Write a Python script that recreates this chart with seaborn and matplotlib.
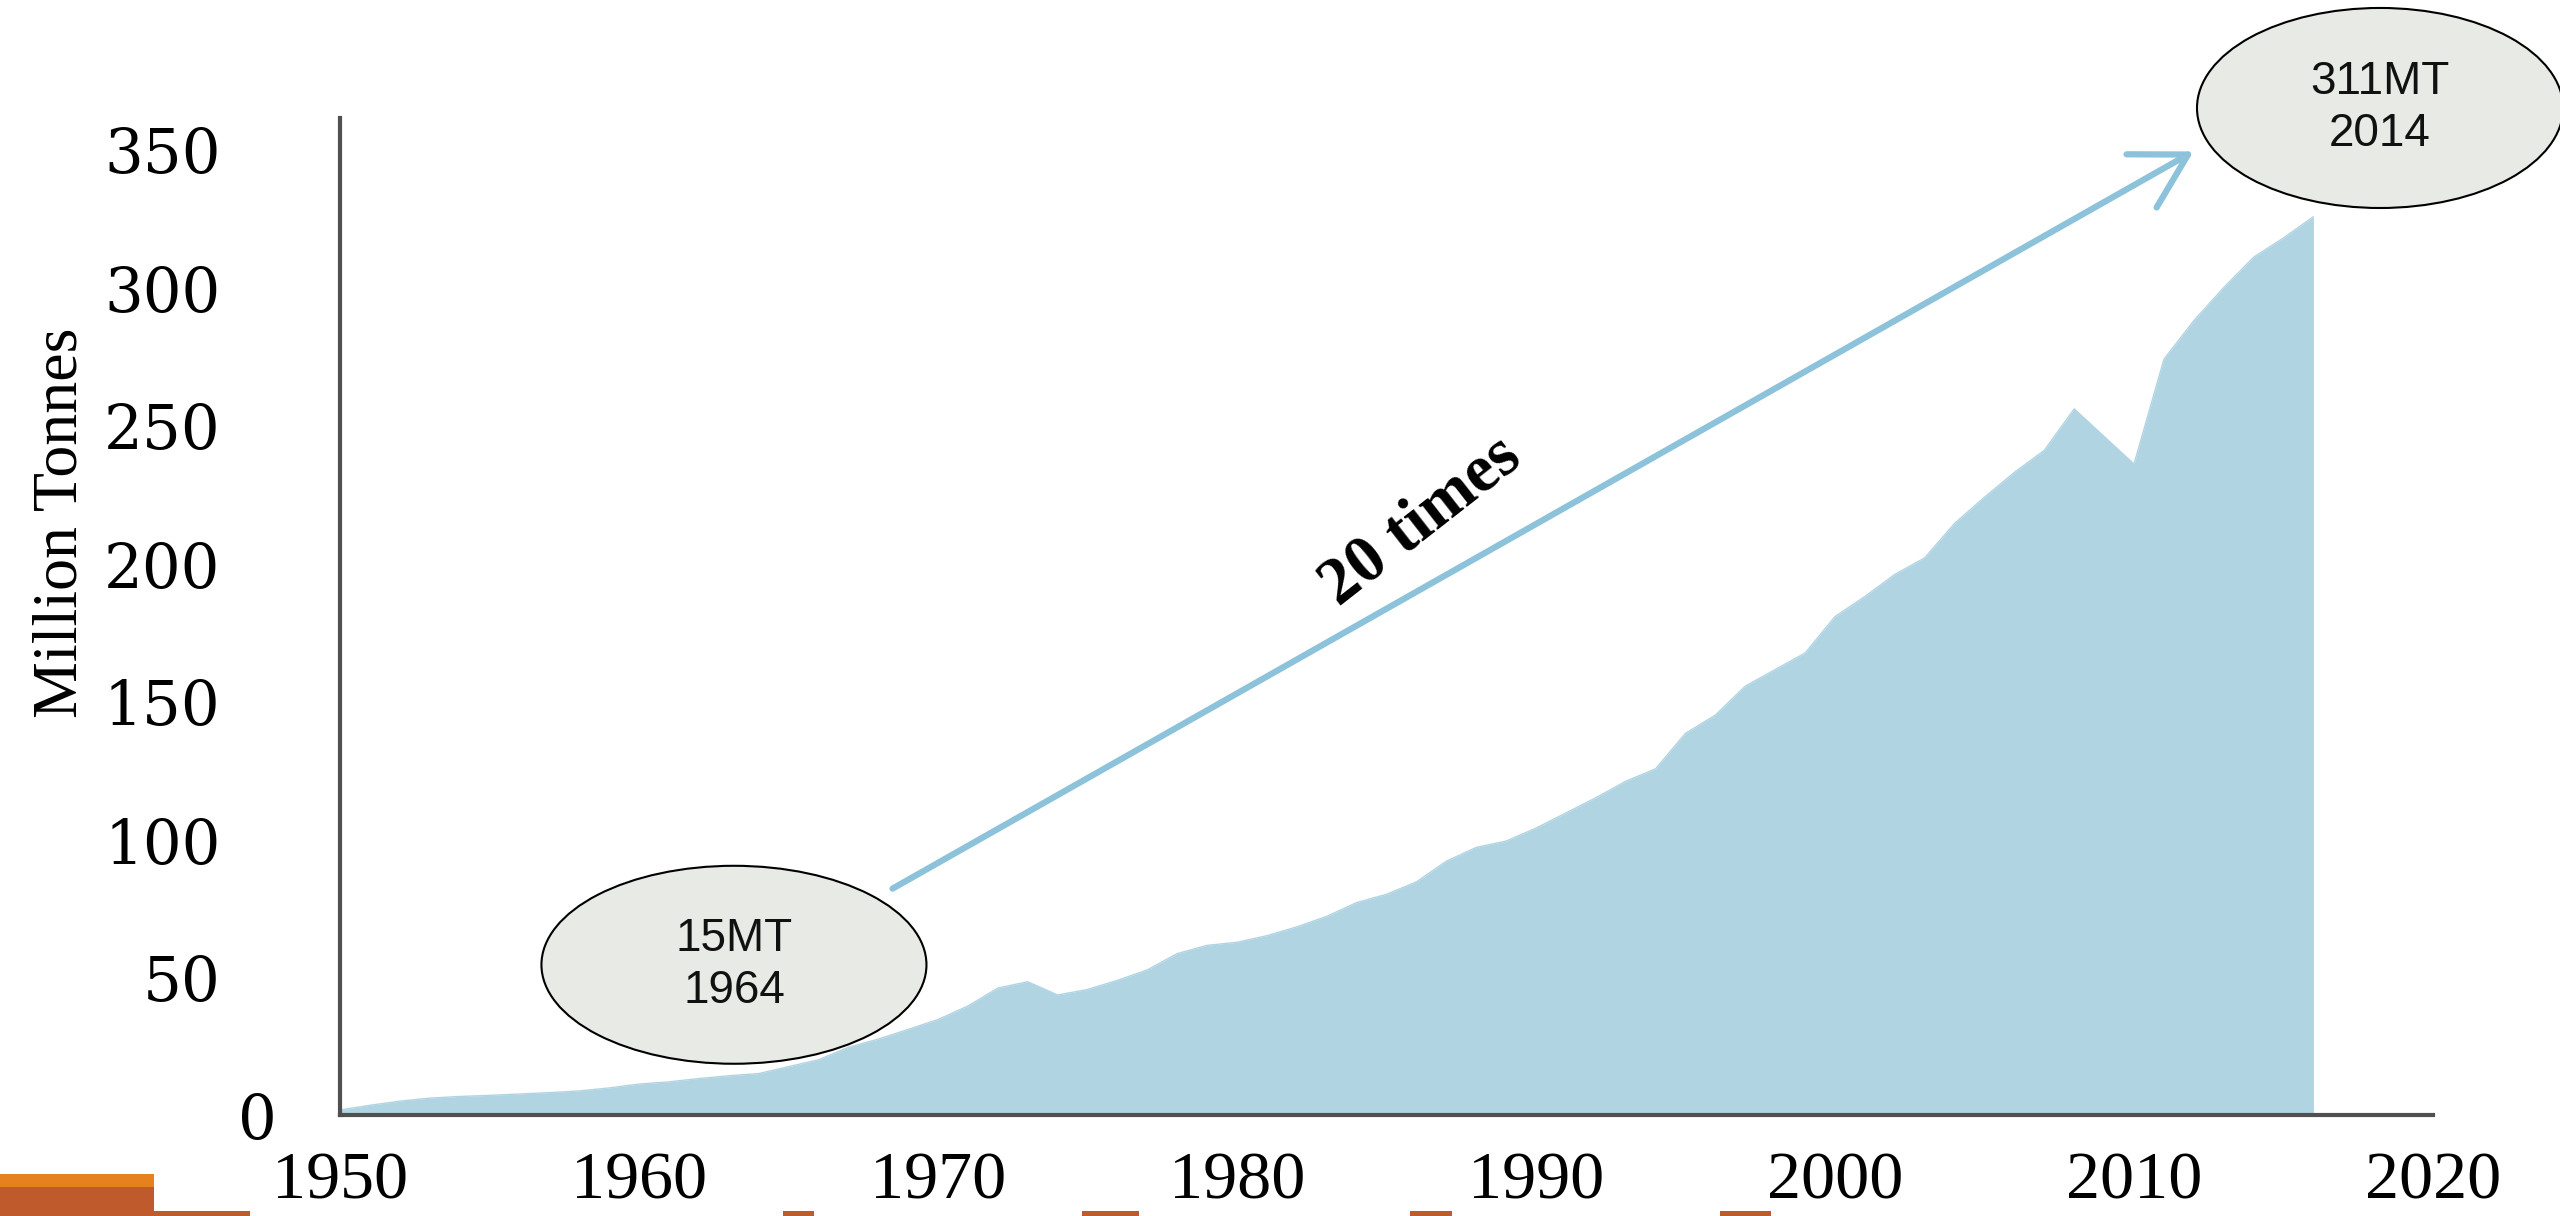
import matplotlib
matplotlib.use("Agg")
import matplotlib.pyplot as plt
import matplotlib.transforms as mtransforms
import pandas as pd
import seaborn as sns
from matplotlib.patches import Ellipse, Rectangle, FancyArrowPatch

# World plastics production, million tonnes per year
years = list(range(1950, 2017))
production = [
    1.8, 3.5, 5.0, 6.1, 6.7, 7.1, 7.6, 8.1, 8.7, 9.8,
    11.2, 12.0, 13.2, 14.2, 15.0, 17.5, 20.0, 24.5, 27.5, 31.0,
    34.6, 39.5, 46.0, 48.3, 43.5, 45.5, 48.8, 52.6, 58.5, 61.5,
    62.6, 65.0, 68.2, 72.0, 77.0, 80.0, 84.5, 92.0, 97.0, 99.3,
    104.0, 109.5, 115.0, 121.0, 125.5, 138.4, 145.0, 155.5, 161.5, 167.5,
    180.7, 188.0, 196.0, 202.0, 214.5, 224.0, 233.0, 241.0, 256.0, 246.0,
    236.0, 274.0, 288.0, 300.0, 311.0, 318.0, 325.7,
]

x_ticks = [1950, 1960, 1970, 1980, 1990, 2000, 2010, 2020]
y_ticks = [0, 50, 100, 150, 200, 250, 300, 350]

start_label = "15MT\n1964"
end_label = "311MT\n2014"
growth_label = "20 times"
y_title = "Million Tonnes"

df = pd.DataFrame({"year": years, "production": production})

sns.set_theme(style="white")
plt.rcParams["font.family"] = ["Liberation Serif", "DejaVu Serif"]
plt.rcParams.update({
    "text.color": "black",
    "axes.labelcolor": "black",
    "xtick.color": "black",
    "ytick.color": "black",
})

AREA = "#b1d4e3"
AXIS = "#505050"
ARROW = "#8cc2da"
ORANGE = "#bf5a2c"
ORANGE_LIGHT = "#e6821e"

fig = plt.figure(figsize=(25.6, 12.16), dpi=100)
ax = fig.add_axes([0.1328, 0.0831, 0.8176, 0.8199])

ax.fill_between(df["year"], 0, df["production"], color=AREA, linewidth=0)
sns.lineplot(data=df, x="year", y="production", ax=ax, color=AREA, linewidth=1.0)

ax.set_xlim(1950, 2020)
ax.set_ylim(0, 361.5)

for side in ("top", "right"):
    ax.spines[side].set_visible(False)
for side in ("left", "bottom"):
    ax.spines[side].set_color(AXIS)
    ax.spines[side].set_linewidth(3)

ax.set_xticks(x_ticks)
ax.set_xticklabels([str(t) for t in x_ticks], fontsize=49,
                   family=["Liberation Serif", "DejaVu Serif"])
ax.set_yticks(y_ticks)
ax.set_yticklabels([str(t) for t in y_ticks], fontsize=44,
                   family=["DejaVu Serif"])
ax.tick_params(axis="x", length=0, pad=26)
ax.tick_params(axis="y", length=0, pad=86)

# the zero label sits a little closer to the axis
zero_label = ax.get_yticklabels()[0]
zero_label.set_transform(zero_label.get_transform()
                         + mtransforms.ScaledTranslation(0.56, 0, fig.dpi_scale_trans))

ax.set_xlabel("")
ax.set_ylabel(y_title, fontsize=46, family=["Liberation Serif", "DejaVu Serif"])
ax.yaxis.set_label_coords(-0.119, 0.594)

# Callout ellipses
for (cx, cy, w, h), label in (((0.2867, 0.2066, 0.1504, 0.1628), start_label),
                             ((0.9297, 0.9112, 0.1430, 0.1645), end_label)):
    fig.add_artist(Ellipse((cx, cy), w, h, transform=fig.transFigure,
                           facecolor="#e8eae5", edgecolor="black",
                           linewidth=1.5, zorder=5))
    fig.text(cx, cy, label, ha="center", va="center", fontsize=33,
             linespacing=1.25, family=["Liberation Sans", "DejaVu Sans"],
             color="#111111", zorder=6)

# Growth arrow between the two callouts
fig.add_artist(FancyArrowPatch(
    (0.3477, 0.2681), (0.8578, 0.8766), transform=fig.transFigure,
    arrowstyle="->,head_length=0.7,head_width=0.4", mutation_scale=55,
    color=ARROW, linewidth=4.5, zorder=4))

fig.text(0.555, 0.571, growth_label, rotation=38, ha="center", va="center",
         fontsize=48, fontweight="bold", color="black",
         family=["Liberation Serif", "DejaVu Serif"], zorder=6)

# Decorative orange strip along the bottom edge
H = 1216.0
W = 2560.0
fig.add_artist(Rectangle((0, 0), 154 / W, 29 / H, transform=fig.transFigure,
                         facecolor=ORANGE, edgecolor="none"))
fig.add_artist(Rectangle((0, 29 / H), 154 / W, 13 / H, transform=fig.transFigure,
                         facecolor=ORANGE_LIGHT, edgecolor="none"))
for x0, x1 in ((154, 250), (783, 814), (1082, 1139), (1410, 1452), (1720, 1771)):
    fig.add_artist(Rectangle((x0 / W, 0), (x1 - x0) / W, 5 / H,
                             transform=fig.transFigure,
                             facecolor=ORANGE, edgecolor="none"))

fig.savefig("out.png", dpi=100, facecolor="white")
